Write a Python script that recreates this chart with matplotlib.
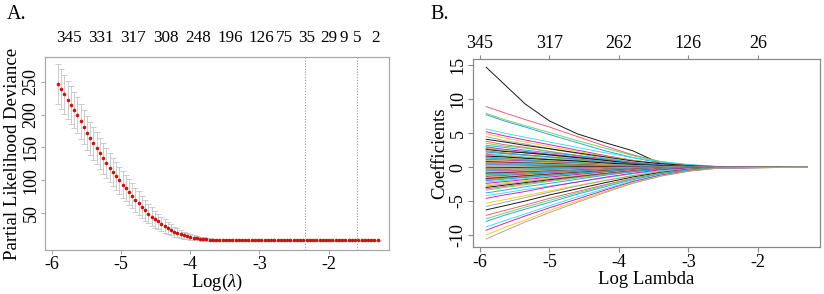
import numpy as np
import matplotlib
matplotlib.use("Agg")
import matplotlib.pyplot as plt

plt.rcParams['font.family'] = ['Liberation Serif', 'DejaVu Serif']
plt.rcParams['mathtext.fontset'] = 'custom'
plt.rcParams['mathtext.rm'] = 'Liberation Serif'
plt.rcParams['mathtext.it'] = 'Liberation Serif:italic'
plt.rcParams['axes.unicode_minus'] = False

# ---------------- panel A : cross-validated deviance ----------------
n_lambda = 100
log_lambda = np.linspace(-5.91, -1.29, n_lambda)   # glmnet lambda grid (log scale)

deviance = [247, 239, 231, 223, 215, 207, 199, 190, 181, 172,
            164, 156, 148.5, 141, 133.5, 126, 119, 112.5, 106, 99.5,
            93, 88, 82, 76, 70, 65, 59, 54, 49, 44.5,
            40.5, 37, 33, 30, 27, 24, 21.5, 19.5, 17.5, 16,
            14.5, 13.3, 12.3, 11.5, 10.8, 10.2, 9.7, 9.3, 9.0, 8.8,
            8.6, 8.5, 8.4, 8.3, 8.2, 8.2, 8.1, 8.1, 8.0, 8.0,
            8.0, 7.9, 7.9, 7.9, 7.9, 7.9, 7.9, 7.9, 7.9, 8.0,
            8.0, 8.0, 8.0, 8.0, 8.0, 8.0, 8.0, 8.0, 8.0, 8.0,
            8.0, 8.0, 8.0, 8.0, 8.0, 8.0, 8.0, 8.0, 8.0, 8.0,
            8.0, 8.0, 8.0, 8.0, 8.1, 8.1, 8.1, 8.1, 8.1, 8.1]

dev_se = [31, 30, 29.5, 29, 28.5, 28, 27.5, 27, 26.5, 26,
          25.5, 25, 24.5, 24, 23.5, 23, 22.5, 22, 21.5, 21,
          20.5, 20, 19.5, 19, 18.5, 18, 17, 16, 15, 14,
          13, 12, 11, 10, 9.2, 8.4, 7.6, 6.8, 6.0, 5.3,
          4.7, 4.1, 3.6, 3.2, 2.8, 2.5, 2.2, 2.0, 1.8, 1.6,
          1.5, 1.4, 1.4, 1.3, 1.3, 1.3, 1.2, 1.2, 1.2, 1.2,
          1.2, 1.2, 1.2, 1.2, 1.2, 1.2, 1.2, 1.2, 1.2, 1.2,
          1.2, 1.2, 1.2, 1.2, 1.2, 1.2, 1.2, 1.2, 1.2, 1.2,
          1.2, 1.2, 1.2, 1.2, 1.2, 1.2, 1.2, 1.2, 1.2, 1.2,
          1.2, 1.2, 1.2, 1.2, 1.2, 1.2, 1.2, 1.2, 1.2, 1.2]

# number of nonzero coefficients shown on top axis
top_a_pos = [-5.75, -5.287, -4.821, -4.353, -3.890, -3.423, -2.965,
             -2.639, -2.315, -2.003, -1.786, -1.593, -1.314]
top_a_lab = ['345', '331', '317', '308', '248', '196', '126',
             '75', '35', '29', '9', '5', '2']

lambda_min_log = -2.34
lambda_1se_log = -1.59

# ---------------- panel B : coefficient paths ----------------
path_knots = [-5.91, -5.65, -5.35, -5.0, -4.6, -4.2, -3.8, -3.4, -3.0, -2.6, -1.29]

paths_upper = [
    [14.7, 12.2, 9.3, 6.8, 4.9, 3.6, 2.4, 0.5, 0.3, 0.08, 0],
    [8.9, 8.0, 7.0, 5.9, 4.5, 3.1, 1.8, 0.8, 0.3, 0.05, 0],
    [7.9, 7.0, 6.1, 5.1, 3.9, 2.8, 1.7, 0.8, 0.3, 0.05, 0],
    [7.7, 6.8, 5.9, 4.8, 3.6, 2.4, 1.4, 0.6, 0.2, 0.03, 0],
    [5.6, 5.0, 4.4, 3.7, 2.9, 2.1, 1.4, 0.8, 0.4, 0.1, 0],
    [5.2, 4.6, 4.0, 3.3, 2.5, 1.7, 1.0, 0.5, 0.2, 0.03, 0],
    [4.9, 4.3, 3.7, 3.0, 2.3, 1.6, 1.0, 0.5, 0.2, 0.05, 0],
    [4.5, 3.9, 3.4, 2.7, 2.0, 1.3, 0.7, 0.3, 0.05, 0, 0],
    [4.1, 3.7, 3.2, 2.7, 2.1, 1.5, 0.9, 0.5, 0.2, 0.05, 0],
    [3.8, 3.3, 2.9, 2.3, 1.7, 1.1, 0.6, 0.25, 0.05, 0, 0],
    [3.5, 3.1, 2.8, 2.3, 1.7, 1.1, 0.5, 0.15, 0, 0, 0],
    [3.2, 2.9, 2.5, 2.1, 1.7, 1.2, 0.7, 0.35, 0.1, 0.02, 0],
    [3.0, 2.6, 2.2, 1.8, 1.3, 0.8, 0.4, 0.1, 0, 0, 0],
]

paths_band = [
    [2.9, 2.6, 2.3, 1.9, 1.5, 1.0, 0.6, 0.3, 0.1, 0.02, 0],
    [2.8, 2.5, 2.1, 1.7, 1.3, 0.8, 0.4, 0.15, 0, 0, 0],
    [2.7, 2.4, 2.1, 1.8, 1.4, 1.0, 0.6, 0.3, 0.1, 0.03, 0],
    [2.6, 2.3, 2.1, 1.8, 1.4, 1.0, 0.5, 0.25, 0.08, 0.02, 0],
    [2.4, 2.1, 1.8, 1.5, 1.1, 0.7, 0.35, 0.12, 0, 0, 0],
    [2.3, 2.0, 1.7, 1.4, 1.0, 0.6, 0.3, 0.1, 0, 0, 0],
    [2.2, 2.0, 1.8, 1.5, 1.2, 0.8, 0.5, 0.25, 0.08, 0.02, 0],
    [2.0, 1.8, 1.5, 1.2, 0.9, 0.6, 0.3, 0.1, 0, 0, 0],
    [1.9, 1.6, 1.4, 1.1, 0.8, 0.5, 0.25, 0.1, 0.02, 0, 0],
    [1.8, 1.6, 1.4, 1.1, 0.8, 0.5, 0.3, 0.12, 0.03, 0, 0],
    [1.7, 1.5, 1.3, 1.1, 0.9, 0.6, 0.35, 0.15, 0.05, 0.01, 0],
    [1.6, 1.5, 1.3, 1.1, 0.9, 0.6, 0.4, 0.2, 0.06, 0.02, 0],
    [1.5, 1.3, 1.1, 0.9, 0.6, 0.35, 0.15, 0.04, 0, 0, 0],
    [1.4, 1.3, 1.1, 0.9, 0.7, 0.45, 0.25, 0.1, 0.02, 0, 0],
    [1.3, 1.2, 1.0, 0.8, 0.6, 0.4, 0.2, 0.08, 0.01, 0, 0],
    [1.2, 1.1, 0.9, 0.7, 0.5, 0.3, 0.15, 0.05, 0, 0, 0],
    [1.1, 1.0, 0.9, 0.7, 0.55, 0.35, 0.2, 0.08, 0.02, 0, 0],
    [1.0, 0.9, 0.8, 0.65, 0.5, 0.35, 0.2, 0.1, 0.03, 0.01, 0],
    [0.9, 0.8, 0.7, 0.55, 0.4, 0.25, 0.1, 0.03, 0, 0, 0],
    [0.8, 0.7, 0.6, 0.5, 0.35, 0.2, 0.1, 0.04, 0, 0, 0],
    [0.7, 0.65, 0.55, 0.45, 0.35, 0.25, 0.15, 0.07, 0.02, 0, 0],
    [0.6, 0.55, 0.5, 0.4, 0.3, 0.2, 0.1, 0.04, 0, 0, 0],
    [0.5, 0.45, 0.4, 0.3, 0.2, 0.12, 0.05, 0, 0, 0, 0],
    [0.4, 0.35, 0.3, 0.25, 0.2, 0.12, 0.06, 0.02, 0, 0, 0],
    [0.3, 0.3, 0.25, 0.2, 0.15, 0.1, 0.06, 0.03, 0.01, 0, 0],
    [0.2, 0.18, 0.15, 0.1, 0.06, 0.02, 0, 0, 0, 0, 0],
    [0.1, 0.12, 0.14, 0.13, 0.1, 0.07, 0.04, 0.02, 0, 0, 0],
    [-0.1, -0.08, -0.05, 0, 0.04, 0.05, 0.03, 0.01, 0, 0, 0],
    [-0.2, -0.18, -0.15, -0.1, -0.06, -0.03, 0, 0, 0, 0, 0],
    [-0.3, -0.28, -0.25, -0.2, -0.15, -0.1, -0.05, -0.02, 0, 0, 0],
    [-0.4, -0.36, -0.3, -0.22, -0.15, -0.08, -0.03, 0, 0, 0, 0],
    [-0.5, -0.45, -0.4, -0.32, -0.24, -0.15, -0.08, -0.03, 0, 0, 0],
    [-0.6, -0.55, -0.48, -0.38, -0.28, -0.18, -0.1, -0.04, 0, 0, 0],
    [-0.7, -0.63, -0.55, -0.45, -0.33, -0.2, -0.1, -0.03, 0, 0, 0],
    [-0.8, -0.72, -0.62, -0.5, -0.38, -0.25, -0.13, -0.05, 0, 0, 0],
    [-0.9, -0.82, -0.72, -0.6, -0.47, -0.33, -0.2, -0.1, -0.03, 0, 0],
    [-1.0, -0.9, -0.78, -0.62, -0.45, -0.3, -0.15, -0.05, 0, 0, 0],
    [-1.1, -1.0, -0.87, -0.7, -0.52, -0.35, -0.18, -0.07, -0.01, 0, 0],
    [-1.2, -1.08, -0.93, -0.75, -0.55, -0.36, -0.2, -0.08, -0.01, 0, 0],
    [-1.3, -1.17, -1.0, -0.82, -0.62, -0.42, -0.24, -0.1, -0.02, 0, 0],
    [-1.4, -1.25, -1.08, -0.88, -0.66, -0.45, -0.25, -0.1, -0.02, 0, 0],
    [-1.5, -1.35, -1.17, -0.96, -0.73, -0.5, -0.3, -0.13, -0.04, 0, 0],
    [-1.6, -1.43, -1.24, -1.0, -0.76, -0.52, -0.3, -0.13, -0.03, 0, 0],
    [-1.7, -1.52, -1.3, -1.06, -0.8, -0.55, -0.32, -0.14, -0.04, 0, 0],
    [-1.8, -1.6, -1.38, -1.12, -0.85, -0.58, -0.34, -0.15, -0.04, 0, 0],
    [-1.9, -1.7, -1.47, -1.2, -0.92, -0.64, -0.38, -0.17, -0.05, -0.01, 0],
    [-2.0, -1.78, -1.53, -1.24, -0.93, -0.62, -0.35, -0.14, -0.03, 0, 0],
    [-2.2, -1.96, -1.7, -1.38, -1.05, -0.72, -0.42, -0.19, -0.06, -0.01, 0],
    [-2.4, -2.14, -1.84, -1.48, -1.1, -0.74, -0.42, -0.17, -0.04, 0, 0],
    [-2.6, -2.32, -2.0, -1.63, -1.24, -0.85, -0.5, -0.22, -0.07, -0.01, 0],
    [-2.8, -2.49, -2.14, -1.73, -1.3, -0.88, -0.5, -0.2, -0.05, 0, 0],
    [-3.0, -2.67, -2.3, -1.87, -1.42, -0.97, -0.57, -0.26, -0.08, -0.02, 0],
    [-3.2, -2.84, -2.44, -1.98, -1.48, -1.0, -0.57, -0.24, -0.06, 0, 0],
    [-3.4, -3.02, -2.6, -2.12, -1.6, -1.1, -0.65, -0.3, -0.09, -0.02, 0],
]

paths_lower = [
    [-3.8, -3.4, -2.9, -2.4, -1.8, -1.2, -0.7, -0.3, -0.08, -0.01, 0],
    [-4.2, -3.8, -3.3, -2.8, -2.2, -1.6, -1.0, -0.55, -0.2, -0.05, 0],
    [-4.6, -4.1, -3.6, -2.9, -2.2, -1.5, -0.9, -0.4, -0.12, -0.02, 0],
    [-5.3, -4.8, -4.2, -3.5, -2.7, -1.95, -1.25, -0.7, -0.3, -0.08, 0],
    [-5.8, -5.2, -4.5, -3.7, -2.8, -2.0, -1.25, -0.65, -0.25, -0.06, 0],
    [-6.3, -5.7, -5.0, -4.1, -3.2, -2.3, -1.45, -0.8, -0.35, -0.1, 0],
    [-7.1, -6.4, -5.6, -4.6, -3.6, -2.6, -1.65, -0.9, -0.4, -0.12, 0],
    [-7.6, -6.8, -5.9, -4.9, -3.8, -2.7, -1.7, -0.9, -0.38, -0.1, 0],
    [-8.0, -7.1, -6.2, -5.2, -4.0, -2.9, -1.85, -1.0, -0.45, -0.13, 0],
    [-8.8, -7.9, -6.9, -5.7, -4.4, -3.2, -2.05, -1.15, -0.5, -0.15, 0],
    [-9.3, -8.3, -7.2, -6.0, -4.7, -3.4, -2.15, -1.2, -0.55, -0.17, 0],
    [-10.0, -8.9, -7.8, -6.4, -5.0, -3.6, -2.3, -1.3, -0.6, -0.18, 0],
    [-10.6, -9.4, -8.1, -6.7, -5.2, -3.75, -2.4, -1.35, -0.62, -0.18, 0],
]

top_b_pos = [-6, -5, -4, -3, -2]
top_b_lab = ['345', '317', '262', '126', '26']

# R default palette
r_palette = ['#000000', '#DF536B', '#61D04F', '#2297E6',
             '#28E2E5', '#CD0BBC', '#F5C710', '#9E9E9E']

frame_col = '#a8a8a8'
fs = 13

fig = plt.figure(figsize=(8.24, 2.94), dpi=100)

# ---------- A ----------
axA = fig.add_axes([0.0546, 0.150, 0.4175, 0.656])
axA.errorbar(log_lambda, deviance, yerr=dev_se, fmt='none',
             ecolor='#c4c4c4', elinewidth=0.6, capsize=2.5, capthick=0.6, zorder=1)
axA.plot(log_lambda, deviance, 'o', color='#cc1111', ms=2.6, mew=0, zorder=2)
axA.axvline(lambda_min_log, color='#999999', lw=0.8, ls=(0, (1, 1.5)))
axA.axvline(lambda_1se_log, color='#999999', lw=0.8, ls=(0, (1, 1.5)))
axA.set_xlim(-6.097, -1.126)
axA.set_ylim(-6.5, 288)
axA.set_xticks([-6, -5, -4, -3, -2])
axA.set_yticks([50, 100, 150, 200, 250])
axA.tick_params(axis='both', labelsize=fs, length=3, color=frame_col, pad=1.5)
axA.tick_params(axis='y', labelrotation=90, pad=1)
for lab in axA.get_yticklabels():
    lab.set_va('center')
axA.set_xlabel(r'Log$(\lambda)$', fontsize=fs + 0.5, labelpad=-1)
axA.set_ylabel('Partial Likelihood Deviance', fontsize=fs + 0.5, labelpad=1)
for s in axA.spines.values():
    s.set_color(frame_col)
topA = axA.twiny()
topA.set_xlim(axA.get_xlim())
topA.set_xticks(top_a_pos)
topA.set_xticklabels(top_a_lab)
topA.tick_params(axis='x', length=0, labelsize=12.3, pad=8)
for s in topA.spines.values():
    s.set_color(frame_col)

# ---------- B ----------
axB = fig.add_axes([0.574, 0.160, 0.421, 0.639])
all_paths = paths_upper + paths_band + paths_lower
for k, row in enumerate(all_paths):
    axB.plot(path_knots, row, color=r_palette[k % len(r_palette)], lw=0.7, alpha=0.9)
axB.set_xlim(-6.10, -1.108)
axB.set_ylim(-11.76, 15.9)
axB.set_xticks([-6, -5, -4, -3, -2])
axB.set_yticks([-10, -5, 0, 5, 10, 15])
axB.tick_params(axis='both', labelsize=fs, length=3.5, color='#888888', pad=1.5)
axB.tick_params(axis='y', labelrotation=90, pad=1)
for lab in axB.get_yticklabels():
    lab.set_va('center')
axB.set_xlabel('Log Lambda', fontsize=fs + 0.5, labelpad=0)
axB.set_ylabel('Coefficients', fontsize=fs + 0.5, labelpad=1)
for s in axB.spines.values():
    s.set_color('#888888')
topB = axB.twiny()
topB.set_xlim(axB.get_xlim())
topB.set_xticks(top_b_pos)
topB.set_xticklabels(top_b_lab)
topB.tick_params(axis='x', length=3, color='#888888', labelsize=fs, pad=2)
for s in topB.spines.values():
    s.set_color('#888888')

fig.text(0.008, 0.95, 'A.', fontsize=14.5, va='center', ha='left')
fig.text(0.522, 0.95, 'B.', fontsize=14.5, va='center', ha='left')

fig.savefig('out.png', dpi=100)
